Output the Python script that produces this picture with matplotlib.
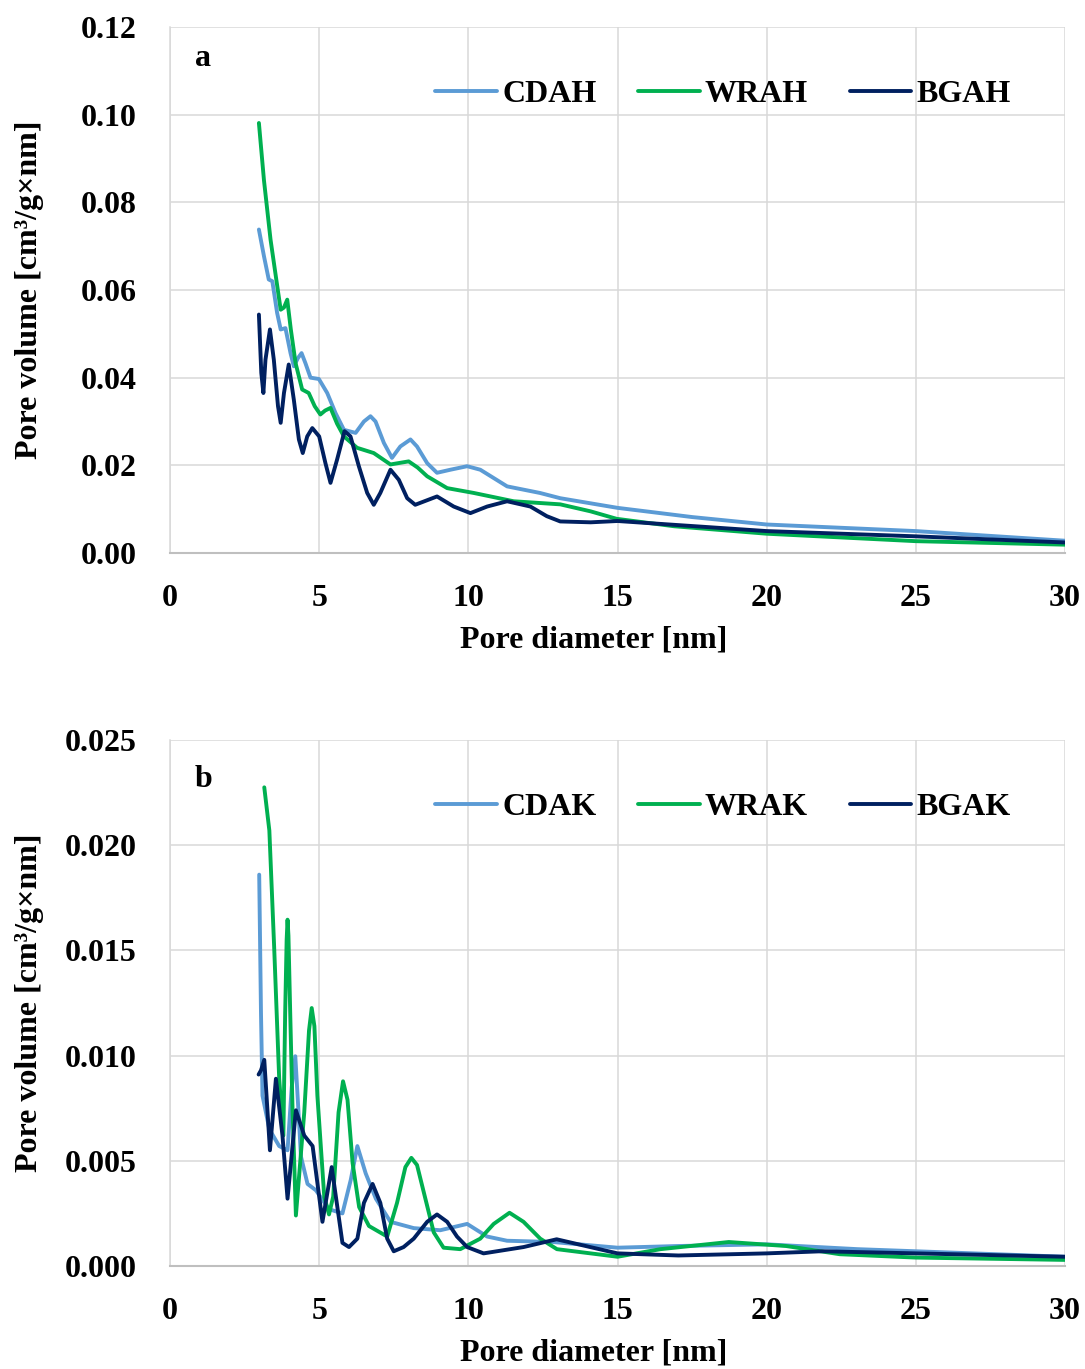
import matplotlib
matplotlib.use('Agg')
import matplotlib.pyplot as plt

plt.rcParams['font.family'] = ['Liberation Serif', 'DejaVu Serif']
plt.rcParams['font.weight'] = 'bold'

# Panel a - acid hydrolysis samples
cdah_x = [2.98, 3.15, 3.31, 3.43, 3.59, 3.71, 3.87, 4.04, 4.15, 4.29, 4.41, 4.54, 4.71, 4.99, 5.27, 5.55, 5.83, 6.22,
          6.5, 6.72, 6.89, 7.17, 7.44, 7.72, 8.06, 8.28, 8.62, 8.95, 9.4, 9.96, 10.4, 10.85, 11.3, 12.4, 13.08,
          15, 17.5, 20, 25, 30]
cdah_y = [0.0738, 0.0677, 0.0624, 0.062, 0.0548, 0.051, 0.0513, 0.0456, 0.0426, 0.0445, 0.0456, 0.0433, 0.040, 0.0397, 0.0365, 0.0319, 0.0281, 0.0274,
          0.030, 0.0312, 0.030, 0.0251, 0.0217, 0.0243, 0.0259, 0.0243, 0.0205, 0.0183, 0.019, 0.0198, 0.019, 0.0171, 0.0152, 0.0137, 0.0125,
          0.0103, 0.0082, 0.0065, 0.005, 0.0028]

wrah_x = [2.98, 3.15, 3.37, 3.55, 3.71, 3.82, 3.93, 4.05, 4.21, 4.43, 4.65, 4.85, 5.04, 5.2, 5.38, 5.6, 5.83, 6.27, 6.83,
          7.39, 8.0, 8.3, 8.62, 9.29, 10.18, 11.52, 13.08, 14.1, 14.97, 16.9, 20, 25, 30]
wrah_y = [0.0981, 0.085, 0.0715, 0.063, 0.0555, 0.056, 0.0578, 0.051, 0.0433, 0.0373, 0.0365, 0.0335, 0.0316, 0.0325, 0.0331, 0.0295, 0.0266, 0.024, 0.0228,
          0.0202, 0.0209, 0.0195, 0.0175, 0.0148, 0.0137, 0.0118, 0.0111, 0.0095, 0.0078, 0.0061, 0.0044, 0.0027, 0.0019]

bgah_x = [2.98, 3.06, 3.13, 3.2, 3.35, 3.48, 3.62, 3.71, 3.82, 3.98, 4.15, 4.32, 4.45, 4.6, 4.77, 5.0, 5.21, 5.38, 5.6,
          5.85, 6.05, 6.33, 6.61, 6.83, 7.05, 7.39, 7.67, 7.95, 8.22, 8.95, 9.51, 10.07, 10.63, 11.3, 12.08, 12.63,
          13.08, 14.1, 15, 20, 25, 30]
bgah_y = [0.0544, 0.0411, 0.0365, 0.0441, 0.051, 0.0441, 0.0335, 0.0297, 0.0365, 0.043, 0.035, 0.0259, 0.0228, 0.0266, 0.0285, 0.0266, 0.0205, 0.016, 0.0213,
          0.0278, 0.0266, 0.0198, 0.0137, 0.011, 0.0137, 0.019, 0.0167, 0.0125, 0.011, 0.0129, 0.0106, 0.0091, 0.0106, 0.0118, 0.0106, 0.0084,
          0.0072, 0.007, 0.0073, 0.005, 0.0038, 0.0024]

# Panel b - alkaline samples
cdak_x = [2.99, 3.05, 3.1, 3.33, 3.66, 3.94, 4.08, 4.2, 4.3, 4.39, 4.61, 4.89, 5.33, 5.78, 6.06, 6.28, 6.56, 6.9, 7.39,
          8.17, 9.06, 9.96, 10.63, 11.3, 12.84, 15, 17.04, 20, 23.05, 25, 30]
cdak_y = [0.0186, 0.012, 0.0081, 0.0065, 0.0057, 0.0055, 0.0085, 0.00997, 0.0075, 0.0052, 0.0039, 0.0036, 0.0027, 0.0025, 0.0041, 0.0057, 0.0044, 0.0032, 0.0021,
          0.0018, 0.0017, 0.002, 0.0014, 0.0012, 0.00114, 0.00087, 0.00095, 0.00103, 0.0008, 0.0007, 0.00044]

wrak_x = [3.16, 3.33, 3.49, 3.66, 3.8, 3.86, 3.91, 3.94, 3.97, 4.03, 4.11, 4.22, 4.5, 4.66, 4.75, 4.84, 4.94, 5.17,
          5.33, 5.47, 5.65, 5.8, 5.95, 6.12, 6.34, 6.67, 7.28, 7.61, 7.89, 8.09, 8.28, 8.56, 8.84, 9.17, 9.73,
          10.4, 10.85, 11.38, 11.85, 12.41, 12.97, 15, 16.44, 18.73, 20.65, 22.45, 25, 30]
wrak_y = [0.02275, 0.0207, 0.0152, 0.0089, 0.0062, 0.012, 0.0155, 0.01646, 0.0157, 0.012, 0.0073, 0.0024, 0.0073, 0.0112, 0.01226, 0.0114, 0.0081, 0.0033,
          0.00245, 0.0033, 0.0073, 0.00878, 0.0079, 0.0049, 0.0028, 0.0019, 0.0014, 0.003, 0.0047, 0.00514, 0.0048, 0.0032, 0.0016, 0.00087, 0.0008,
          0.0013, 0.002, 0.00253, 0.0021, 0.0013, 0.0008, 0.00044, 0.0008, 0.00114, 0.00095, 0.00056, 0.0004, 0.00029]

bgak_x = [2.97, 3.05, 3.16, 3.35, 3.55, 3.77, 3.94, 4.22, 4.5, 4.78, 5.11, 5.42, 5.78, 6.0, 6.28, 6.5, 6.79,
          7.05, 7.28, 7.5, 7.83, 8.17, 8.62, 8.95, 9.29, 9.62, 9.96, 10.51, 11.85, 12.96, 15, 17.04, 20, 21.85, 25, 30]
bgak_y = [0.0091, 0.0093, 0.0098, 0.0055, 0.0089, 0.0062, 0.0032, 0.0074, 0.0062, 0.0057, 0.0021, 0.0047, 0.0011, 0.0009, 0.0013, 0.003, 0.0039,
          0.003, 0.0013, 0.0007, 0.0009, 0.0013, 0.0021, 0.00245, 0.0021, 0.0014, 0.0009, 0.0006, 0.0009, 0.00127, 0.0006, 0.0005, 0.0006, 0.0007, 0.0006, 0.00044]

colors = ['#5B9BD5', '#00B050', '#002060']
fs = 23

fig = plt.figure(figsize=(10.85, 13.69), dpi=100)
ax_a = fig.add_axes([170 / 1085, 1 - 553 / 1369, 895 / 1085, 526 / 1369])
ax_b = fig.add_axes([170 / 1085, 1 - 1266 / 1369, 895 / 1085, 526 / 1369])


def style_axes(ax, ymax, ystep, yfmt, letter, letter_y):
    ax.set_xlim(0, 30)
    ax.set_ylim(0, ymax)
    ax.set_xticks(range(0, 31, 5))
    n = int(round(ymax / ystep))
    yt = [i * ystep for i in range(n + 1)]
    ax.set_yticks(yt)
    ax.set_yticklabels([yfmt.format(v) for v in yt])
    ax.grid(True, color='#d9d9d9', linewidth=1.1)
    ax.set_axisbelow(True)
    for s in ['top', 'right']:
        ax.spines[s].set_visible(False)
    ax.spines['left'].set_color('#d9d9d9')
    ax.spines['left'].set_linewidth(1.1)
    ax.spines['bottom'].set_color('#bfbfbf')
    ax.spines['bottom'].set_linewidth(1.5)
    ax.tick_params(axis='both', length=0, labelsize=fs)
    ax.tick_params(axis='y', pad=24)
    ax.tick_params(axis='x', pad=22)
    ax.set_xlabel('Pore diameter [nm]', fontsize=fs, fontweight='bold')
    ax.xaxis.set_label_coords(0.473, -0.137)
    ax.set_ylabel('Pore volume [cm³/g×nm]', fontsize=fs, fontweight='bold')
    ax.yaxis.set_label_coords(-0.141, 0.5)
    ax.text(0.037, letter_y, letter, transform=ax.transAxes, fontsize=fs,
            fontweight='bold', ha='center', va='baseline')


def draw(ax, series, labels):
    for (x, y), lab, c in zip(series, labels, colors):
        ax.plot(x, y, color=c, linewidth=2.8, label=lab,
                solid_capstyle='round', solid_joinstyle='round')
    ax.legend(loc='center left', bbox_to_anchor=(0.296, 0.872), ncol=3, frameon=False,
              fontsize=fs, handlelength=1.94, handletextpad=0.16, columnspacing=1.3,
              borderpad=0, borderaxespad=0)


draw(ax_a, [(cdah_x, cdah_y), (wrah_x, wrah_y), (bgah_x, bgah_y)], ['CDAH', 'WRAH', 'BGAH'])
style_axes(ax_a, 0.12, 0.02, '{:.2f}', 'a', 0.926)

draw(ax_b, [(cdak_x, cdak_y), (wrak_x, wrak_y), (bgak_x, bgak_y)], ['CDAK', 'WRAK', 'BGAK'])
style_axes(ax_b, 0.025, 0.005, '{:.3f}', 'b', 0.911)

fig.savefig('out.png', dpi=100)
